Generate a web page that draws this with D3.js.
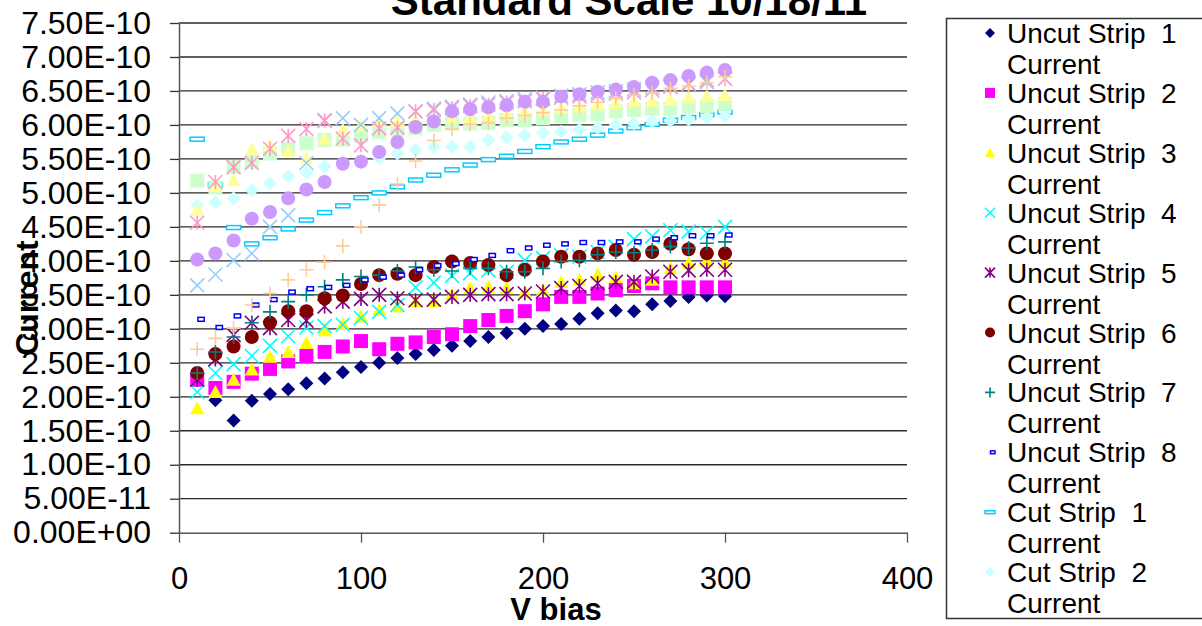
<!DOCTYPE html>
<html>
<head>
<meta charset="utf-8">
<script src="https://cdn.jsdelivr.net/npm/d3@7"></script>
<style>
  body { margin: 0; background: #fff; }
  svg { display: block; font-family: "Liberation Sans", Arial, sans-serif; }
</style>
</head>
<body>
<div id="chart"></div>
<script>
// values in units of 1E-10 A, bias steps 10..300 V
const unit = 1e-10;
const vbias = d3.range(10, 301, 10);

const uncut1 = [2.30, 1.95, 1.65, 1.94, 2.04, 2.11, 2.20, 2.27, 2.36, 2.44, 2.50, 2.57, 2.63, 2.69, 2.75, 2.82, 2.88, 2.94, 3.00, 3.04, 3.07, 3.15, 3.23, 3.27, 3.26, 3.36, 3.41, 3.47, 3.49, 3.48];
const uncut2 = [2.25, 2.13, 2.22, 2.34, 2.41, 2.52, 2.60, 2.66, 2.74, 2.82, 2.70, 2.78, 2.80, 2.88, 2.92, 3.04, 3.13, 3.19, 3.26, 3.36, 3.47, 3.47, 3.52, 3.57, 3.63, 3.67, 3.61, 3.61, 3.61, 3.61];
const uncut3 = [1.83, 2.07, 2.25, 2.40, 2.59, 2.66, 2.79, 2.98, 3.07, 3.18, 3.28, 3.33, 3.41, 3.41, 3.51, 3.60, 3.61, 3.60, 3.54, 3.57, 3.69, 3.72, 3.80, 3.76, 3.67, 3.72, 3.89, 3.97, 4.00, 3.98];
const uncut4 = [2.07, 2.35, 2.48, 2.60, 2.75, 2.89, 3.02, 3.04, 3.06, 3.16, 3.25, 3.35, 3.61, 3.68, 3.78, 3.82, 3.86, 3.84, 4.01, 4.04, 4.08, 4.06, 4.13, 4.21, 4.32, 4.36, 4.45, 4.43, 4.41, 4.50];
const uncut5 = [2.25, 2.55, 2.91, 3.09, 3.01, 3.13, 3.12, 3.33, 3.40, 3.44, 3.50, 3.45, 3.42, 3.43, 3.47, 3.50, 3.51, 3.51, 3.52, 3.55, 3.60, 3.63, 3.67, 3.69, 3.69, 3.77, 3.84, 3.86, 3.87, 3.87];
const uncut6 = [2.35, 2.63, 2.74, 2.88, 3.09, 3.26, 3.26, 3.45, 3.49, 3.66, 3.79, 3.81, 3.79, 3.91, 3.99, 3.97, 3.94, 3.79, 3.87, 3.99, 4.06, 4.06, 4.11, 4.16, 4.09, 4.13, 4.25, 4.17, 4.11, 4.11];
const uncut7 = [2.35, 2.66, 2.88, 3.09, 3.25, 3.40, 3.50, 3.62, 3.72, 3.77, 3.79, 3.85, 3.91, 3.87, 3.85, 3.89, 3.89, 3.84, 3.84, 3.89, 3.99, 4.01, 4.09, 4.13, 4.12, 4.16, 4.21, 4.19, 4.26, 4.28];
const uncut8 = [3.14, 3.02, 3.19, 3.35, 3.43, 3.54, 3.59, 3.61, 3.64, 3.72, 3.76, 3.79, 3.87, 3.93, 3.96, 4.02, 4.08, 4.15, 4.19, 4.23, 4.25, 4.27, 4.27, 4.28, 4.28, 4.32, 4.34, 4.37, 4.37, 4.38];
const cut1 = [5.79, 5.12, 4.49, 4.25, 4.34, 4.47, 4.60, 4.71, 4.81, 4.93, 5.00, 5.09, 5.19, 5.26, 5.34, 5.41, 5.49, 5.54, 5.61, 5.68, 5.75, 5.79, 5.85, 5.91, 5.96, 6.01, 6.07, 6.11, 6.15, 6.19];
const cut2 = [4.82, 4.86, 4.92, 5.04, 5.14, 5.24, 5.30, 5.39, 5.45, 5.47, 5.51, 5.58, 5.63, 5.68, 5.68, 5.68, 5.78, 5.81, 5.85, 5.88, 5.90, 5.93, 5.96, 6.00, 6.02, 6.05, 6.06, 6.08, 6.11, 6.13];
const cut3 = [5.18, 5.08, 5.38, 5.46, 5.58, 5.65, 5.73, 5.78, 5.78, 5.84, 5.90, 5.93, 5.95, 6.00, 6.02, 6.02, 6.03, 6.07, 6.07, 6.10, 6.13, 6.15, 6.16, 6.20, 6.22, 6.24, 6.24, 6.27, 6.28, 6.31];
const cut4 = [4.75, 5.10, 5.19, 5.65, 5.70, 5.62, 5.51, 5.80, 5.93, 6.00, 6.05, 6.05, 6.07, 6.07, 6.10, 6.12, 6.15, 6.17, 6.20, 6.22, 6.25, 6.27, 6.30, 6.32, 6.35, 6.35, 6.37, 6.40, 6.42, 6.44];
const cut5 = [3.64, 3.80, 4.01, 4.11, 4.50, 4.67, 5.44, 6.07, 6.10, 6.00, 6.10, 6.17, 6.20, 6.24, 6.27, 6.30, 6.33, 6.35, 6.38, 6.40, 6.43, 6.45, 6.48, 6.50, 6.52, 6.55, 6.58, 6.60, 6.63, 6.68];
const cut6 = [4.56, 5.16, 5.38, 5.44, 5.65, 5.84, 5.94, 6.06, 5.80, 5.70, 5.95, 5.96, 6.20, 6.22, 6.25, 6.28, 6.30, 6.33, 6.35, 6.38, 6.40, 6.42, 6.44, 6.46, 6.48, 6.51, 6.56, 6.61, 6.66, 6.68];
const cut7 = [4.02, 4.11, 4.30, 4.62, 4.72, 4.92, 5.05, 5.16, 5.43, 5.46, 5.60, 5.75, 5.97, 6.05, 6.20, 6.23, 6.26, 6.29, 6.34, 6.34, 6.42, 6.45, 6.49, 6.52, 6.56, 6.62, 6.66, 6.72, 6.77, 6.81];
const cut8 = [2.70, 2.86, 3.01, 3.35, 3.52, 3.72, 3.87, 3.98, 4.22, 4.50, 4.82, 5.13, 5.47, 5.77, 5.94, 6.01, 6.03, 6.10, 6.14, 6.18, 6.22, 6.28, 6.33, 6.39, 6.44, 6.47, 6.54, 6.57, 6.62, 6.71];

const seriesNames = ["Uncut Strip  1", "Uncut Strip  2", "Uncut Strip  3", "Uncut Strip  4",
  "Uncut Strip  5", "Uncut Strip  6", "Uncut Strip  7", "Uncut Strip  8",
  "Cut Strip  1", "Cut Strip  2", "Cut Strip  3", "Cut Strip  4",
  "Cut Strip  5", "Cut Strip  6", "Cut Strip  7", "Cut Strip  8"];
const seriesValues = [uncut1, uncut2, uncut3, uncut4, uncut5, uncut6, uncut7, uncut8,
  cut1, cut2, cut3, cut4, cut5, cut6, cut7, cut8];
const seriesColors = ["#000080", "#FF00FF", "#FFFF00", "#00FFFF", "#800080", "#800000", "#008080", "#0000FF",
  "#00CCFF", "#CCFFFF", "#CCFFCC", "#FFFF99", "#99CCFF", "#FF99CC", "#CC99FF", "#FFCC99"];
const seriesShapes = ["diamond", "square", "triangle", "x", "star", "circle", "plus", "dash",
  "longdash", "diamond", "square", "triangle", "x", "star", "circle", "plus"];

const yTicks = d3.range(0, 7.51, 0.5).map(d => +(d * unit).toPrecision(3));
const yTickLabels = ["0.00E+00", "5.00E-11", "1.00E-10", "1.50E-10", "2.00E-10", "2.50E-10", "3.00E-10", "3.50E-10",
  "4.00E-10", "4.50E-10", "5.00E-10", "5.50E-10", "6.00E-10", "6.50E-10", "7.00E-10", "7.50E-10"];
const xTicks = [0, 100, 200, 300, 400];

const W = 1202, H = 626;
const plot = { left: 179, right: 907, top: 23, bottom: 532.7 };

const svg = d3.select("#chart").append("svg")
    .attr("width", W)
    .attr("height", H);

const x = d3.scaleLinear().domain([0, 400]).range([plot.left, plot.right]);
const y = d3.scaleLinear().domain([0, 7.5 * unit]).range([plot.bottom, plot.top]);

// gridlines
svg.append("g")
  .selectAll("line")
  .data(yTicks.slice(1))
  .join("line")
    .attr("x1", plot.left).attr("x2", plot.right)
    .attr("y1", d => y(d)).attr("y2", d => y(d))
    .attr("stroke", "#2a2a2a")
    .attr("stroke-width", 1.3);

// axes
const yAxis = d3.axisLeft(y)
    .tickValues(yTicks)
    .tickFormat((d, i) => yTickLabels[i])
    .tickSize(9).tickSizeOuter(0).tickPadding(19);

const gy = svg.append("g")
    .attr("transform", `translate(${plot.left},0)`)
    .call(yAxis);
gy.select(".domain").attr("stroke", "#555").attr("stroke-width", 1.5);
gy.selectAll(".tick line").attr("stroke", "#333").attr("stroke-width", 1.3);
gy.selectAll(".tick text").attr("font-size", 32).attr("fill", "#000")
    .attr("font-family", "Liberation Sans, Arial, sans-serif");

const xAxis = d3.axisBottom(x)
    .tickValues(xTicks)
    .tickSize(10).tickSizeOuter(0).tickPadding(24);

const gx = svg.append("g")
    .attr("transform", `translate(0,${plot.bottom})`)
    .call(xAxis);
gx.select(".domain").attr("stroke", "#555").attr("stroke-width", 1.5);
gx.selectAll(".tick line").attr("stroke", "#555").attr("stroke-width", 1.3);
gx.selectAll(".tick text").attr("font-size", 31).attr("fill", "#000")
    .attr("font-family", "Liberation Sans, Arial, sans-serif");

// marker shapes, centred on 0,0
function drawMarker(g, shape, color, s) {
  const sw = 1.6;
  switch (shape) {
    case "diamond":
      g.append("path").attr("d", `M0,${-s}L${s},0L0,${s}L${-s},0Z`).attr("fill", color);
      break;
    case "square":
      g.append("rect").attr("x", -s).attr("y", -s).attr("width", 2 * s).attr("height", 2 * s).attr("fill", color);
      break;
    case "triangle":
      g.append("path").attr("d", `M0,${-s}L${s},${s * 0.85}L${-s},${s * 0.85}Z`).attr("fill", color);
      break;
    case "circle":
      g.append("circle").attr("r", s).attr("fill", color);
      break;
    case "x":
      g.append("path").attr("d", `M${-s},${-s}L${s},${s}M${s},${-s}L${-s},${s}`)
        .attr("stroke", color).attr("stroke-width", sw).attr("fill", "none");
      break;
    case "star":
      g.append("path").attr("d", `M${-s},${-s}L${s},${s}M${s},${-s}L${-s},${s}M0,${-s}L0,${s}`)
        .attr("stroke", color).attr("stroke-width", sw).attr("fill", "none");
      break;
    case "plus":
      g.append("path").attr("d", `M${-s},0L${s},0M0,${-s}L0,${s}`)
        .attr("stroke", color).attr("stroke-width", sw).attr("fill", "none");
      break;
    case "dash":
      g.append("rect").attr("x", s * 0.1).attr("y", -s * 0.28).attr("width", s * 0.9).attr("height", s * 0.56)
        .attr("fill", "#fff").attr("stroke", color).attr("stroke-width", 1.5);
      break;
    case "longdash":
      g.append("rect").attr("x", -s).attr("y", -s * 0.28).attr("width", 2 * s).attr("height", s * 0.56)
        .attr("fill", "#fff").attr("stroke", color).attr("stroke-width", 1.5);
      break;
  }
}

// points
const marks = svg.append("g");
seriesValues.forEach((vals, si) => {
  const g = marks.append("g");
  g.selectAll("g")
    .data(vals.map((v, i) => ({ v: vbias[i], c: v * unit })))
    .join("g")
      .attr("transform", d => `translate(${x(d.v)},${y(d.c)})`)
      .each(function() { drawMarker(d3.select(this), seriesShapes[si], seriesColors[si], 7); });
});

// title (clipped at top in the original)
svg.append("text")
    .attr("x", 629).attr("y", 15)
    .attr("text-anchor", "middle")
    .attr("font-size", 42).attr("font-weight", "bold")
    .text("Standard Scale 10/18/11");

// axis titles
svg.append("text")
    .attr("x", 556).attr("y", 620)
    .attr("text-anchor", "middle")
    .attr("font-size", 31).attr("font-weight", "bold")
    .text("V bias");

svg.append("text")
    .attr("transform", "translate(38,298) rotate(-90)")
    .attr("text-anchor", "middle")
    .attr("font-size", 32).attr("font-weight", "bold")
    .text("Current");

// legend (runs off the right edge, only first 10 entries fit)
const legend = svg.append("g");
legend.append("rect")
    .attr("x", 946.5).attr("y", 18.5)
    .attr("width", 300).attr("height", 600)
    .attr("fill", "#fff").attr("stroke", "#333").attr("stroke-width", 1.5);

const legendRows = legend.selectAll("g.entry")
  .data(seriesNames.slice(0, 10))
  .join("g")
    .attr("class", "entry")
    .attr("transform", (d, i) => `translate(0,${43 + i * 59.9})`);

legendRows.each(function(d, i) {
  const g = d3.select(this);
  const m = g.append("g").attr("transform", "translate(990,-10)");
  drawMarker(m, seriesShapes[i], seriesColors[i], 5);
  g.append("text")
    .attr("x", 1007).attr("y", 0)
    .attr("font-size", 28)
    .attr("xml:space", "preserve")
    .style("white-space", "pre")
    .text(d);
  g.append("text")
    .attr("x", 1007).attr("y", 31)
    .attr("font-size", 28)
    .text("Current");
});
</script>
</body>
</html>
